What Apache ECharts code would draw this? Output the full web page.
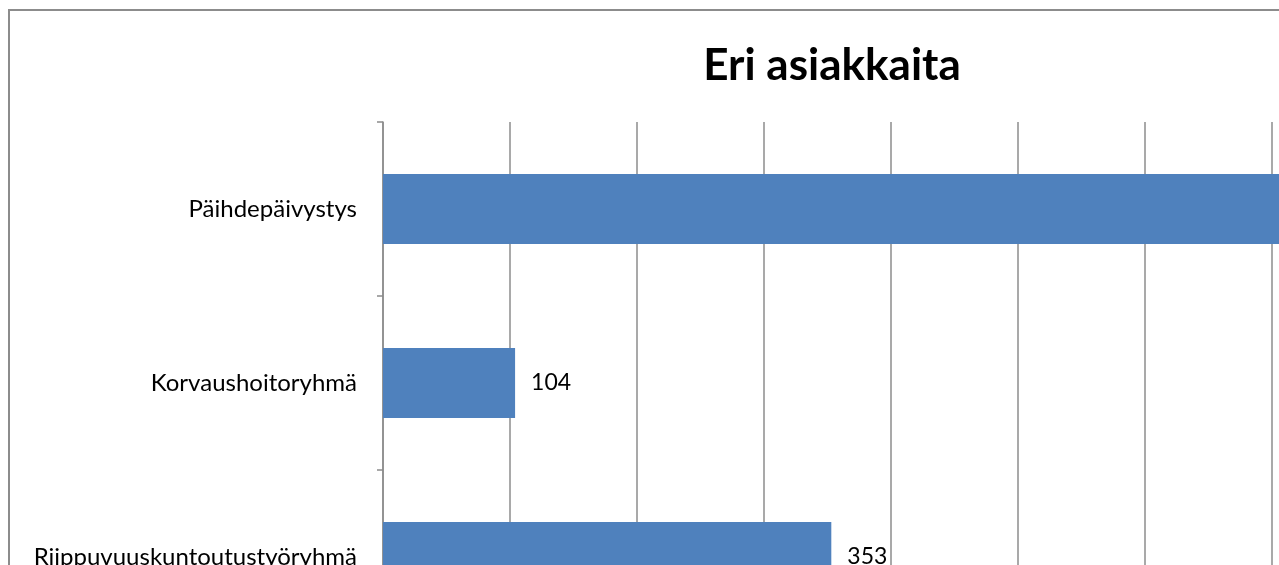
<!DOCTYPE html>
<html>
<head>
<meta charset="utf-8">
<title>Eri asiakkaita</title>
<script src="https://cdn.jsdelivr.net/npm/echarts@6/dist/echarts.min.js"></script>
<style>
  html, body { margin: 0; padding: 0; background: #fff; overflow: hidden; width: 1279px; height: 565px; }
  #chart { position: absolute; left: 8px; top: 9px; width: 1700px; height: 700px; border: 2px solid #8c8c8c; }
</style>
</head>
<body>
<div id="chart"></div>
<script>
// data (first value is cut off in the reference, estimated)
var categories = ['Päihdepäivystys', 'Korvaushoitoryhmä', 'Riippuvuuskuntoutustyöryhmä'];
var asiakkaat = [800, 104, 353];

var chart = echarts.init(document.getElementById('chart'));
chart.setOption({
	animation: false,
	textStyle: { fontFamily: 'Lato' },
	title: {
		text: 'Eri asiakkaita',
		left: 817,
		top: 28,
		textAlign: 'center',
		textStyle: { fontFamily: 'Lato', fontWeight: 'bold', fontSize: 44, color: '#000' }
	},
	grid: { left: 373, top: 111, width: 1143, height: 522, containLabel: false },
	xAxis: {
		type: 'value',
		min: 0,
		max: 900,
		interval: 100,
		axisLine: { show: false },
		axisTick: { show: false },
		axisLabel: { show: false },
		splitLine: { show: true, lineStyle: { color: '#8c8c8c', width: 1.5 } }
	},
	yAxis: {
		type: 'category',
		inverse: true,
		data: categories,
		axisLine: { show: true, lineStyle: { color: '#8c8c8c', width: 1.5 } },
		axisTick: { show: true, length: 6, lineStyle: { color: '#8c8c8c', width: 1.5 } },
		axisLabel: { margin: 26, fontSize: 24, color: '#000', fontFamily: 'Lato' }
	},
	series: [{
		type: 'bar',
		data: asiakkaat,
		barWidth: 70,
		itemStyle: { color: '#4f81bd' },
		label: {
			show: true,
			position: 'right',
			distance: 16,
			fontSize: 23,
			color: '#000',
			fontFamily: 'Lato'
		}
	}]
});
</script>
</body>
</html>
